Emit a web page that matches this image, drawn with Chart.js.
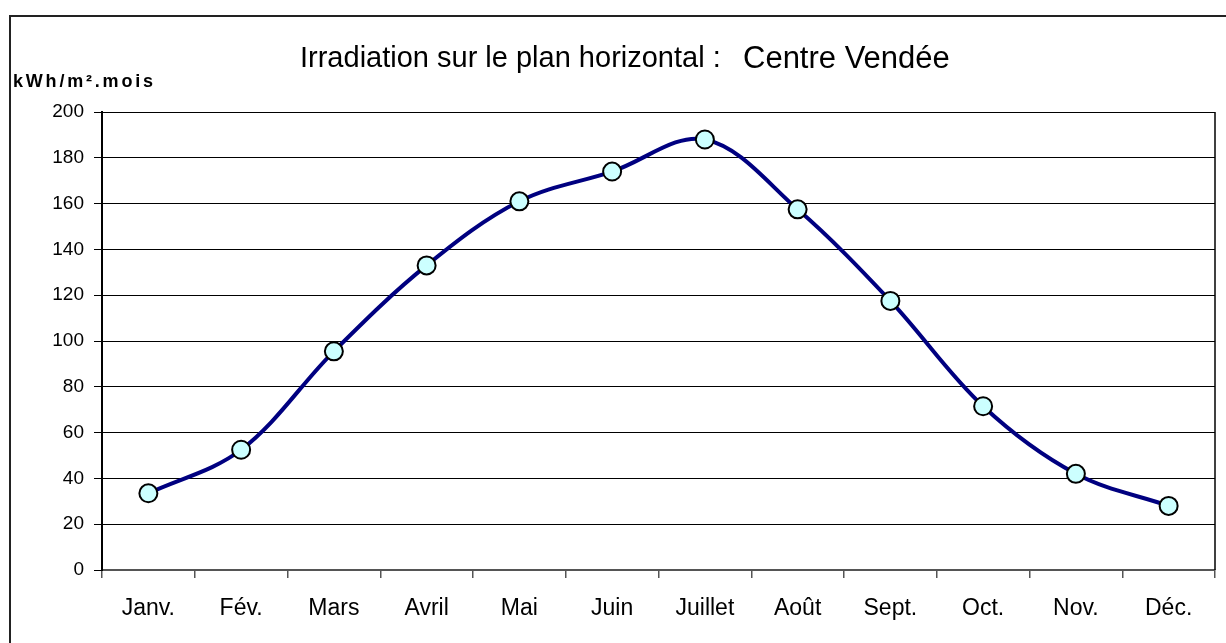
<!DOCTYPE html>
<html>
<head>
<meta charset="utf-8">
<script src="https://cdn.jsdelivr.net/npm/chart.js@4/dist/chart.umd.min.js"></script>
<style>
  html, body { margin: 0; padding: 0; background: #ffffff; }
  #wrap { width: 1226px; height: 643px; position: relative; }
</style>
</head>
<body>
<div id="wrap"><canvas id="c" width="1226" height="643"></canvas></div>
<script>
const months = ["Janv.", "Fév.", "Mars", "Avril", "Mai", "Juin", "Juillet", "Août", "Sept.", "Oct.", "Nov.", "Déc."];
const irradiation = [33.5, 52.5, 95.5, 133, 161, 174, 188, 157.5, 117.5, 71.5, 42, 28];
const titleMain = "Irradiation sur le plan horizontal :";
const titleSite = "Centre Vendée";
const unitLabel = "kWh/m².mois";

const FONT = "'Liberation Sans', Arial, sans-serif";

const decor = {
  id: 'decor',
  beforeDraw(chart) {
    const ctx = chart.ctx;
    ctx.save();
    ctx.fillStyle = '#ffffff';
    ctx.fillRect(0, 0, chart.width, chart.height);
    ctx.strokeStyle = '#222222';
    ctx.lineWidth = 2;
    ctx.beginPath();
    ctx.moveTo(10, chart.height + 2);
    ctx.lineTo(10, 16);
    ctx.lineTo(chart.width + 2, 16);
    ctx.stroke();
    ctx.restore();
  },
  beforeDatasetsDraw(chart) {
    const ctx = chart.ctx;
    const a = chart.chartArea;
    ctx.save();
    ctx.strokeStyle = '#000000';
    ctx.lineWidth = 1.5;
    ctx.beginPath();
    ctx.moveTo(a.right, a.top);
    ctx.lineTo(a.right, a.bottom);
    ctx.stroke();
    ctx.restore();
  },
  afterDraw(chart) {
    const ctx = chart.ctx;
    ctx.save();
    ctx.fillStyle = '#000000';
    ctx.textBaseline = 'alphabetic';
    ctx.textAlign = 'left';
    ctx.font = "29px " + FONT;
    ctx.fillText(titleMain, 300, 67);
    ctx.font = "31px " + FONT;
    ctx.fillText(titleSite, 743, 68);
    ctx.font = "bold 18px " + FONT;
    if ('letterSpacing' in ctx) ctx.letterSpacing = '2.8px';
    ctx.fillText(unitLabel, 13, 87);
    ctx.restore();
  }
};

new Chart(document.getElementById('c'), {
  type: 'line',
  data: {
    labels: months,
    datasets: [{
      data: irradiation,
      borderColor: '#000080',
      borderWidth: 4,
      tension: 0.35,
      pointRadius: 9,
      pointHoverRadius: 9,
      pointBackgroundColor: '#ccffff',
      pointBorderColor: '#000000',
      pointBorderWidth: 2,
      fill: false,
      clip: false
    }]
  },
  options: {
    responsive: false,
    animation: false,
    devicePixelRatio: 1,
    layout: { padding: { top: 112, right: 7, bottom: 0, left: 0 } },
    plugins: {
      legend: { display: false },
      title: { display: false },
      tooltip: { enabled: false }
    },
    scales: {
      x: {
        offset: true,
        grid: {
          offset: true,
          drawOnChartArea: false,
          drawTicks: true,
          tickLength: 8,
          color: '#555555',
          lineWidth: 1.5
        },
        border: { display: true, color: '#555555', width: 2 },
        ticks: {
          color: '#000000',
          padding: 17,
          font: { family: FONT, size: 23 },
          maxRotation: 0,
          autoSkip: false
        },
        afterFit(scale) { scale.height = 73; }
      },
      y: {
        min: 0,
        max: 200,
        ticks: {
          stepSize: 20,
          color: '#000000',
          padding: 10,
          font: { family: FONT, size: 19 }
        },
        grid: {
          color: '#000000',
          lineWidth: 1,
          drawTicks: true,
          tickLength: 8
        },
        border: { display: true, color: '#000000', width: 2 },
        afterFit(scale) { scale.width = 102; }
      }
    }
  },
  plugins: [decor]
});
</script>
</body>
</html>
